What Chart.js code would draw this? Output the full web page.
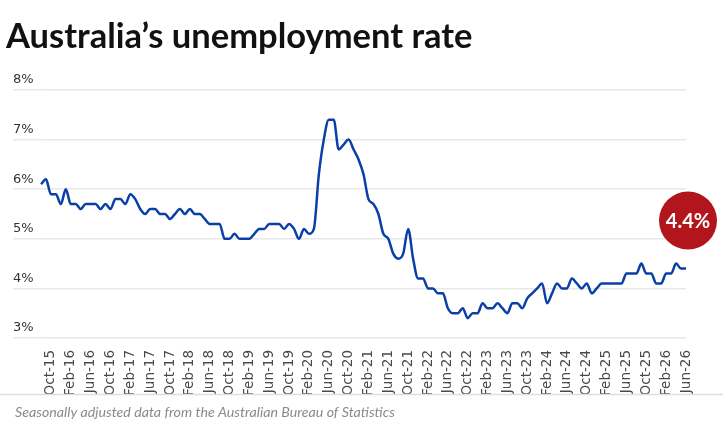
<!DOCTYPE html>
<html>
<head>
<meta charset="utf-8">
<script src="https://cdn.jsdelivr.net/npm/chart.js@4"></script>
<style>
  html, body { margin: 0; padding: 0; background: #fff; }
  #wrap { position: relative; width: 728px; height: 426px; }
</style>
</head>
<body>
<div id="wrap"><canvas id="chartDesemprego"></canvas></div>
<script>
// Textos
const TITLE = 'Australia’s unemployment rate';
const FOOTER = 'Seasonally adjusted data from the Australian Bureau of Statistics';

// Meses (série começa em Aug-15)
const MONTH_NAMES = ['Jan', 'Feb', 'Mar', 'Apr', 'May', 'Jun', 'Jul', 'Aug', 'Sep', 'Oct', 'Nov', 'Dec'];
const START_YEAR = 2015;
const START_MONTH = 7;
const TICK_MONTHS = ['Feb', 'Jun', 'Oct'];

// Taxa de desemprego (%), mensal
const RATE = [
  6.1, 6.2, 5.9, 5.9, 5.7,
  6.0, 5.7, 5.7, 5.6, 5.7, 5.7, 5.7, 5.6, 5.7, 5.6, 5.8, 5.8,
  5.7, 5.9, 5.8, 5.6, 5.5, 5.6, 5.6, 5.5, 5.5, 5.4, 5.5, 5.6,
  5.5, 5.6, 5.5, 5.5, 5.4, 5.3, 5.3, 5.3, 5.0, 5.0, 5.1, 5.0,
  5.0, 5.0, 5.1, 5.2, 5.2, 5.3, 5.3, 5.3, 5.2, 5.3, 5.2, 5.0,
  5.2, 5.1, 5.2, 6.3, 7.0, 7.4, 7.4, 6.8, 6.9, 7.0, 6.8, 6.6,
  6.3, 5.8, 5.7, 5.5, 5.1, 5.0, 4.7, 4.6, 4.7, 5.2, 4.6, 4.2,
  4.2, 4.0, 4.0, 3.9, 3.9, 3.6, 3.5, 3.5, 3.6, 3.4, 3.5, 3.5,
  3.7, 3.6, 3.6, 3.7, 3.6, 3.5, 3.7, 3.7, 3.6, 3.8, 3.9, 4.0,
  4.1, 3.7, 3.9, 4.1, 4.0, 4.0, 4.2, 4.1, 4.0, 4.1, 3.9, 4.0,
  4.1, 4.1, 4.1, 4.1, 4.1, 4.3, 4.3, 4.3, 4.5, 4.3, 4.3, 4.1,
  4.1, 4.3, 4.3, 4.5, 4.4, 4.4
];

// Eixo Y
const Y_MIN = 3;
const Y_MAX = 8;

// Rótulos mensais
const labels = RATE.map(function(_, i) {
  const m = (START_MONTH + i) % 12;
  const y = START_YEAR + Math.floor((START_MONTH + i) / 12);
  return MONTH_NAMES[m] + '-' + String(y).slice(2);
});

/**
 * Título, rodapé e o selo com o último valor
 */
const decorPlugin = {
  id: 'decor',
  afterDraw: function(chart) {
    const ctx = chart.ctx;
    const xs = chart.scales.x;
    const ys = chart.scales.y;
    ctx.save();

    ctx.fillStyle = '#111';
    ctx.font = "bold 34.5px Lato, sans-serif";
    ctx.textBaseline = 'alphabetic';
    ctx.textAlign = 'left';
    ctx.fillText(TITLE, 6, 48);

    ctx.strokeStyle = '#dedede';
    ctx.lineWidth = 1.5;
    ctx.beginPath();
    ctx.moveTo(0, 394.5);
    ctx.lineTo(723, 394.5);
    ctx.stroke();

    ctx.fillStyle = '#8a8a8a';
    ctx.font = "italic 14.2px Lato, sans-serif";
    ctx.fillText(FOOTER, 15, 417);

    // selo vermelho
    const last = RATE.length - 1;
    const bx = xs.getPixelForValue(last) + 2;
    const by = ys.getPixelForValue(RATE[last]) - 48;
    ctx.fillStyle = '#b3151c';
    ctx.beginPath();
    ctx.arc(bx, by, 29, 0, Math.PI * 2);
    ctx.fill();
    ctx.fillStyle = '#fff';
    ctx.font = "bold 20px Lato, sans-serif";
    ctx.textAlign = 'center';
    ctx.textBaseline = 'middle';
    ctx.fillText(RATE[last].toFixed(1) + '%', bx, by + 1);

    ctx.restore();
  }
};

new Chart(document.getElementById('chartDesemprego'), {
  type: 'line',
  data: {
    labels: labels,
    datasets: [{
      data: RATE,
      borderColor: '#0a3fa8',
      borderWidth: 2.5,
      pointRadius: 0,
      cubicInterpolationMode: 'monotone',
      fill: false
    }]
  },
  options: {
    responsive: true,
    maintainAspectRatio: false,
    animation: false,
    layout: { padding: { top: 90, left: 13, right: 42, bottom: 32 } },
    plugins: {
      legend: { display: false },
      tooltip: { enabled: false }
    },
    scales: {
      x: {
        grid: { display: false },
        border: { display: false },
        afterFit: function(scale) { scale.height = 56; },
        ticks: {
          autoSkip: false,
          minRotation: 90,
          maxRotation: 90,
          padding: 4,
          color: '#4a4a4a',
          font: { family: "'DejaVu Sans', sans-serif", size: 13.5 },
          callback: function(value, index) {
            const lab = this.getLabelForValue(value);
            return TICK_MONTHS.indexOf(lab.slice(0, 3)) >= 0 ? lab : '';
          }
        }
      },
      y: {
        min: Y_MIN,
        max: Y_MAX,
        border: { display: false },
        afterFit: function(scale) { scale.width = 28; },
        grid: {
          color: '#e8e8e8',
          lineWidth: 1.5,
          drawTicks: true,
          tickLength: 28
        },
        ticks: {
          stepSize: 1,
          crossAlign: 'far',
          padding: 0,
          labelOffset: -10,
          color: '#333',
          font: { family: "'DejaVu Sans', sans-serif", size: 13 },
          callback: function(v) { return v + '%'; }
        }
      }
    }
  },
  plugins: [decorPlugin]
});
</script>
</body>
</html>
